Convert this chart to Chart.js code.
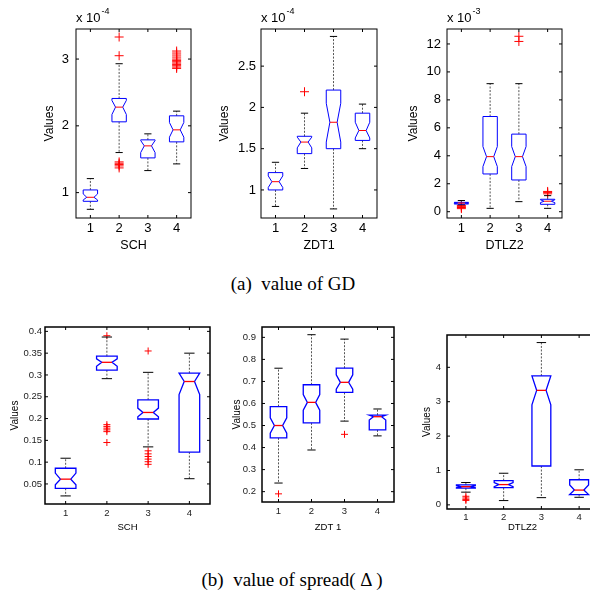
<!DOCTYPE html>
<html>
<head>
<meta charset="utf-8">
<script src="https://cdn.jsdelivr.net/npm/chart.js@4.4.0/dist/chart.umd.min.js"></script>
<style>
  html, body { margin: 0; padding: 0; background: #fff; }
  body { width: 590px; height: 598px; position: relative; overflow: hidden; }
  canvas { position: absolute; }
  .cap { position: absolute; font-family: "Liberation Serif", "Times New Roman", serif; font-size: 19px;
         color: #000; white-space: pre; transform: translate(-50%, -50%); }
</style>
</head>
<body>
<canvas id="c1" width="197" height="255" style="left:0;top:0"></canvas>
<canvas id="c2" width="193" height="255" style="left:197px;top:0"></canvas>
<canvas id="c3" width="200" height="255" style="left:390px;top:0"></canvas>
<canvas id="c4" width="215" height="225" style="left:0;top:310px"></canvas>
<canvas id="c5" width="195" height="225" style="left:215px;top:310px"></canvas>
<canvas id="c6" width="200" height="225" style="left:410px;top:310px"></canvas>
<div class="cap" style="left:293px;top:284px">(a)  value of GD</div>
<div class="cap" style="left:292px;top:580px">(b)  value of spread( Δ )</div>

<script>
// --- datos: cada fila = [bigote inf, Q1, mediana, Q3, bigote sup] ---
const boxCats = ['1', '2', '3', '4'];

// (a) GD, en unidades del multiplicador del eje
const gdSCH = [[0.75, 0.87, 0.93, 1.04, 1.21], [1.60, 2.06, 2.28, 2.41, 2.93], [1.33, 1.52, 1.70, 1.79, 1.88], [1.43, 1.76, 1.94, 2.15, 2.22]];
const gdSCHNotch = [[0.89, 0.98], [2.17, 2.38], [1.60, 1.78], [1.83, 2.05]];
const gdSCHOut = [[], [3.33, 3.05, 1.46, 1.44, 1.42, 1.40, 1.37], [], [3.12, 3.09, 3.06, 3.03, 3.00, 2.98, 2.96, 2.94, 2.92, 2.90, 2.88, 2.86]];
const gdSCHTicks = [1, 2, 3];
const gdSCHTickLabels = ['1', '2', '3'];

const gdZDT1 = [[0.80, 1.00, 1.10, 1.21, 1.335], [1.26, 1.44, 1.58, 1.65, 1.93], [0.77, 1.50, 1.82, 2.21, 2.86], [1.50, 1.60, 1.72, 1.93, 2.04]];
const gdZDT1Notch = [[1.03, 1.17], [1.51, 1.64], [1.58, 2.05], [1.63, 1.82]];
const gdZDT1Out = [[], [2.19], [], []];
const gdZDT1Ticks = [1, 1.5, 2, 2.5];
const gdZDT1TickLabels = ['1', '1.5', '2', '2.5'];

const gdDTLZ2 = [[0.50, 0.55, 0.62, 0.67, 0.80], [0.24, 2.70, 3.94, 6.81, 9.16], [0.72, 2.27, 3.94, 5.55, 9.16], [0.24, 0.53, 0.75, 0.89, 1.15]];
const gdDTLZ2Notch = [[0.58, 0.66], [3.23, 4.66], [3.23, 4.66], [0.65, 0.85]];
const gdDTLZ2Out = [[0.45, 0.38, 0.30, 0.22], [], [12.55, 12.18], [1.45, 1.38, 1.28]];
const gdDTLZ2Ticks = [0, 2, 4, 6, 8, 10, 12];
const gdDTLZ2TickLabels = ['0', '2', '4', '6', '8', '10', '12'];

// (b) spread
const spSCH = [[0.0225, 0.040, 0.061, 0.086, 0.109], [0.2915, 0.311, 0.329, 0.343, 0.387], [0.135, 0.199, 0.214, 0.243, 0.306], [0.062, 0.123, 0.285, 0.304, 0.350]];
const spSCHNotch = [[0.048, 0.075], [0.320, 0.337], [0.204, 0.224], [0.255, 0.304]];
const spSCHOut = [[], [0.390, 0.186, 0.182, 0.178, 0.174, 0.170, 0.145], [0.355, 0.126, 0.119, 0.113, 0.107, 0.101, 0.095], []];
const spSCHTicks = [0.05, 0.1, 0.15, 0.2, 0.25, 0.3, 0.35, 0.4];
const spSCHTickLabels = ['0.05', '0.1', '0.15', '0.2', '0.25', '0.3', '0.35', '0.4'];

const spZDT1 = [[0.239, 0.444, 0.500, 0.586, 0.760], [0.389, 0.512, 0.605, 0.685, 0.912], [0.520, 0.650, 0.696, 0.760, 0.892], [0.453, 0.480, 0.540, 0.547, 0.575]];
const spZDT1Notch = [[0.465, 0.535], [0.570, 0.640], [0.665, 0.730], [0.525, 0.547]];
const spZDT1Out = [[0.19], [], [0.46], []];
const spZDT1Ticks = [0.2, 0.3, 0.4, 0.5, 0.6, 0.7, 0.8, 0.9];
const spZDT1TickLabels = ['0.2', '0.3', '0.4', '0.5', '0.6', '0.7', '0.8', '0.9'];

const spDTLZ2 = [[0.37, 0.485, 0.53, 0.58, 0.65], [0.125, 0.50, 0.59, 0.706, 0.92], [0.21, 1.13, 3.33, 3.75, 4.72], [0.22, 0.30, 0.43, 0.73, 1.02]];
const spDTLZ2Notch = [[0.50, 0.56], [0.53, 0.65], [2.91, 3.75], [0.30, 0.58]];
const spDTLZ2Out = [[0.25, 0.20, 0.16, 0.13], [], [], []];
const spDTLZ2Ticks = [0, 1, 2, 3, 4];
const spDTLZ2TickLabels = ['0', '1', '2', '3', '4'];

// --- paneles (posiciones en coordenadas de la página) ---
const panels = [
  {id: 'c1', ox: 0, oy: 0, area: {l: 76, t: 29, r: 191, b: 218}, stats: gdSCH, notch: gdSCHNotch, out: gdSCHOut,
   yMin: 0.62, yMax: 3.45, ticks: gdSCHTicks, tickLabels: gdSCHTickLabels, xTitle: 'SCH', exp: '-4',
   yPad: 7, xPad: 3, yTitleX: 50, xTitleY: 246, big: true},
  {id: 'c2', ox: 197, oy: 0, area: {l: 261, t: 29, r: 377, b: 218}, stats: gdZDT1, notch: gdZDT1Notch, out: gdZDT1Out,
   yMin: 0.66, yMax: 2.95, ticks: gdZDT1Ticks, tickLabels: gdZDT1TickLabels, xTitle: 'ZDT1', exp: '-4',
   yPad: 5, xPad: 3, yTitleX: 224.3, xTitleY: 246, big: true},
  {id: 'c3', ox: 390, oy: 0, area: {l: 447, t: 29, r: 562, b: 218}, stats: gdDTLZ2, notch: gdDTLZ2Notch, out: gdDTLZ2Out,
   yMin: -0.45, yMax: 13.07, ticks: gdDTLZ2Ticks, tickLabels: gdDTLZ2TickLabels, xTitle: 'DTLZ2', exp: '-3',
   yPad: 6, xPad: 3, yTitleX: 413.3, xTitleY: 246, big: true},
  {id: 'c4', ox: 0, oy: 310, area: {l: 45, t: 327, r: 210, b: 504}, stats: spSCH, notch: spSCHNotch, out: spSCHOut,
   yMin: 0.004, yMax: 0.41, ticks: spSCHTicks, tickLabels: spSCHTickLabels, xTitle: 'SCH', exp: null,
   yPad: 3, xPad: 4, yTitleX: 15.7, xTitleY: 527, big: false},
  {id: 'c5', ox: 215, oy: 310, area: {l: 262, t: 327, r: 394, b: 502}, stats: spZDT1, notch: spZDT1Notch, out: spZDT1Out,
   yMin: 0.153, yMax: 0.947, ticks: spZDT1Ticks, tickLabels: spZDT1TickLabels, xTitle: 'ZDT 1', exp: null,
   yPad: 6, xPad: 4, yTitleX: 237.7, xTitleY: 527, big: false},
  {id: 'c6', ox: 410, oy: 310, area: {l: 447, t: 335, r: 598, b: 509}, stats: spDTLZ2, notch: spDTLZ2Notch, out: spDTLZ2Out,
   yMin: -0.12, yMax: 4.94, ticks: spDTLZ2Ticks, tickLabels: spDTLZ2TickLabels, xTitle: 'DTLZ2', exp: null,
   yPad: 6, xPad: 3, yTitleX: 427.3, xTitleY: 527, big: false}
];

const FONT = '"Liberation Sans", Arial, sans-serif';

// dibuja cajas con muesca, bigotes, marco y ticks hacia adentro
function boxPlugin(p) {
  return {
    id: 'boxes_' + p.id,
    afterDatasetsDraw(chart) {
      const {ctx, scales: {x, y}} = chart;
      const lw = p.big ? 1 : 1.3;
      ctx.save();
      p.stats.forEach((s, i) => {
        const [lo, q1, md, q3, hi] = s;
        const [nl, nh] = p.notch[i];
        const cx = x.getPixelForValue(i + 1);
        const hw = x.getPixelForValue(i + 1.25) - cx;
        const inw = hw * 0.5;
        const capw = hw * 0.5;
        // bigotes
        ctx.strokeStyle = '#555';
        ctx.lineWidth = 1;
        ctx.setLineDash([2, 1.5]);
        ctx.beginPath();
        ctx.moveTo(cx, y.getPixelForValue(q3)); ctx.lineTo(cx, y.getPixelForValue(hi));
        ctx.moveTo(cx, y.getPixelForValue(q1)); ctx.lineTo(cx, y.getPixelForValue(lo));
        ctx.stroke();
        ctx.setLineDash([]);
        ctx.strokeStyle = '#000';
        ctx.beginPath();
        ctx.moveTo(cx - capw, y.getPixelForValue(hi)); ctx.lineTo(cx + capw, y.getPixelForValue(hi));
        ctx.moveTo(cx - capw, y.getPixelForValue(lo)); ctx.lineTo(cx + capw, y.getPixelForValue(lo));
        ctx.stroke();
        // caja
        ctx.strokeStyle = '#0000ff';
        ctx.lineWidth = lw;
        ctx.beginPath();
        ctx.moveTo(cx - hw, y.getPixelForValue(q1));
        ctx.lineTo(cx - hw, y.getPixelForValue(nl));
        ctx.lineTo(cx - inw, y.getPixelForValue(md));
        ctx.lineTo(cx - hw, y.getPixelForValue(nh));
        ctx.lineTo(cx - hw, y.getPixelForValue(q3));
        ctx.lineTo(cx + hw, y.getPixelForValue(q3));
        ctx.lineTo(cx + hw, y.getPixelForValue(nh));
        ctx.lineTo(cx + inw, y.getPixelForValue(md));
        ctx.lineTo(cx + hw, y.getPixelForValue(nl));
        ctx.lineTo(cx + hw, y.getPixelForValue(q1));
        ctx.closePath();
        ctx.stroke();
        // mediana
        ctx.strokeStyle = '#ff0000';
        ctx.beginPath();
        ctx.moveTo(cx - inw, y.getPixelForValue(md)); ctx.lineTo(cx + inw, y.getPixelForValue(md));
        ctx.stroke();
      });
      ctx.restore();
    },
    afterDraw(chart) {
      const {ctx, chartArea: a, scales: {x, y}} = chart;
      const tk = 3;
      ctx.save();
      ctx.strokeStyle = '#000';
      ctx.lineWidth = p.big ? 1 : 1.5;
      ctx.strokeRect(a.left, a.top, a.right - a.left, a.bottom - a.top);
      ctx.lineWidth = 1;
      ctx.beginPath();
      x.ticks.forEach(t => {
        const px = x.getPixelForValue(t.value);
        ctx.moveTo(px, a.bottom); ctx.lineTo(px, a.bottom - tk);
        ctx.moveTo(px, a.top); ctx.lineTo(px, a.top + tk);
      });
      y.ticks.forEach(t => {
        const py = y.getPixelForValue(t.value);
        ctx.moveTo(a.left, py); ctx.lineTo(a.left + tk, py);
        ctx.moveTo(a.right, py); ctx.lineTo(a.right - tk, py);
      });
      ctx.stroke();
      // multiplicador "x 10^-n"
      if (p.exp) {
        ctx.fillStyle = '#000';
        ctx.textBaseline = 'middle';
        ctx.textAlign = 'left';
        ctx.font = '13px ' + FONT;
        const base = 'x 10';
        ctx.fillText(base, a.left, a.top - 11);
        const w = ctx.measureText(base).width;
        ctx.font = '9px ' + FONT;
        ctx.fillText(p.exp, a.left + w + 1, a.top - 17);
      }
      ctx.restore();
    }
  };
}

function makePanel(p) {
  const cv = document.getElementById(p.id);
  const W = cv.width, H = cv.height;
  const aL = p.area.l - p.ox, aT = p.area.t - p.oy, aR = p.area.r - p.ox, aB = p.area.b - p.oy;
  const tickSize = p.big ? 13 : 9.5;
  const yTitleSize = p.big ? 12 : 10;
  const xTitleSize = p.big ? 12.5 : 9.5;
  const tickColor = p.big ? '#000' : '#222';

  const outliers = [];
  p.out.forEach((arr, i) => arr.forEach(v => outliers.push({x: i + 1, y: v})));

  return new Chart(cv.getContext('2d'), {
    type: 'scatter',
    data: {
      datasets: [{
        label: 'outliers',
        data: outliers,
        pointStyle: 'cross',
        pointRadius: p.big ? 4.5 : 3.5,
        borderColor: '#ff0000',
        borderWidth: 1
      }]
    },
    options: {
      responsive: false,
      animation: false,
      layout: {padding: {left: 0, top: aT, right: W - aR, bottom: 0}},
      plugins: {legend: {display: false}, tooltip: {enabled: false}},
      scales: {
        x: {
          type: 'linear', min: 0.5, max: 4.5,
          grid: {display: false, drawTicks: false},
          border: {display: false},
          afterBuildTicks: s => { s.ticks = boxCats.map((c, i) => ({value: i + 1})); },
          afterFit: s => { s.height = H - aB; },
          ticks: {
            autoSkip: false, maxRotation: 0, padding: p.xPad, color: tickColor,
            font: {family: FONT, size: tickSize},
            callback: v => boxCats[Math.round(v) - 1]
          },
          title: {
            display: true, text: p.xTitle, color: '#000',
            font: {family: FONT, size: xTitleSize},
            padding: {top: 0, bottom: H - (p.xTitleY - p.oy) - xTitleSize * 0.6}
          }
        },
        y: {
          type: 'linear', min: p.yMin, max: p.yMax,
          grid: {display: false, drawTicks: false},
          border: {display: false},
          afterBuildTicks: s => { s.ticks = p.ticks.map(v => ({value: v})); },
          afterFit: s => { s.width = aL; },
          ticks: {
            autoSkip: false, padding: p.yPad, color: tickColor,
            font: {family: FONT, size: tickSize},
            callback: (v, i) => p.tickLabels[i]
          },
          title: {
            display: true, text: 'Values', color: '#000',
            font: {family: FONT, size: yTitleSize},
            padding: {top: (p.yTitleX - p.ox) - yTitleSize * 0.6, bottom: 0}
          }
        }
      }
    },
    plugins: [boxPlugin(p)]
  });
}

panels.forEach(makePanel);
</script>
</body>
</html>
